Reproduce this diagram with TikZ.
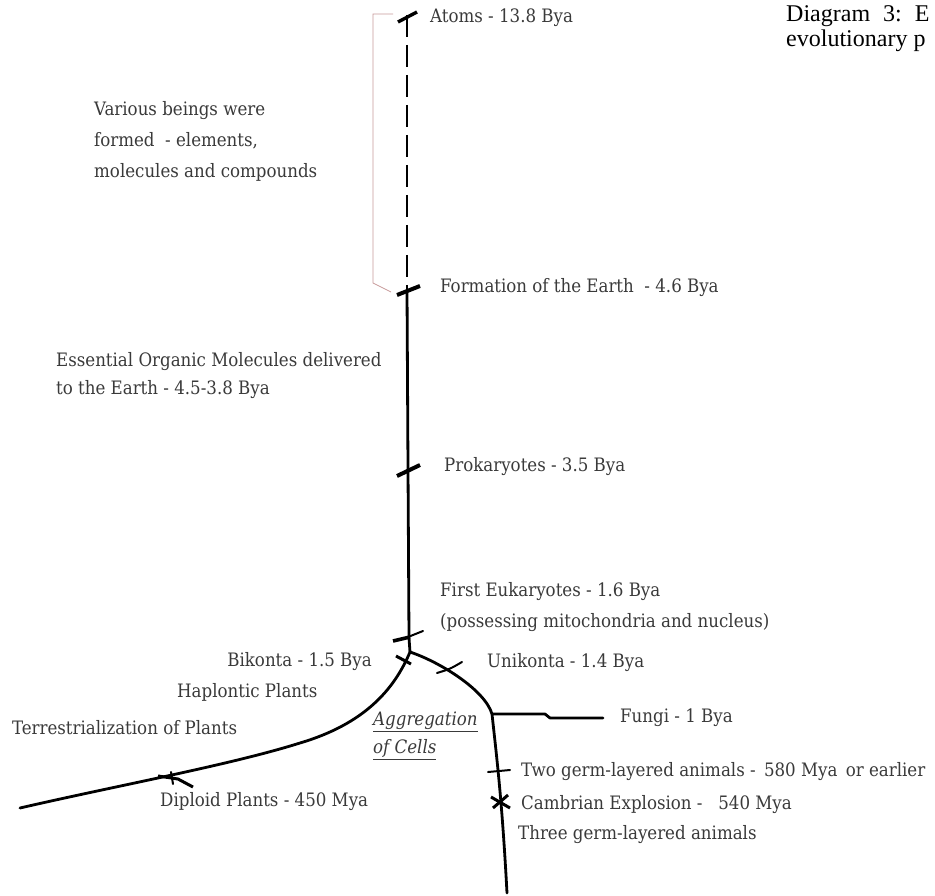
\documentclass[tikz,border=0pt]{standalone}
\usepackage{fontspec}
\setmainfont{DejaVu Serif Condensed}
\newfontfamily\capfont{Liberation Serif}
\definecolor{txtgray}{HTML}{3A3A3A}
\definecolor{brk}{HTML}{C89A9A}
\begin{document}
\begin{tikzpicture}[x=1pt,y=-1pt,
  lbl/.style={anchor=west, inner sep=0pt, text=txtgray, align=left, font=\fontsize{18.5}{28}\selectfont},
  caplbl/.style={anchor=west, inner sep=0pt, text=black, font=\capfont\fontsize{24}{25}\selectfont},
  branch/.style={line width=2.8pt, line cap=round, line join=round},
  tickmark/.style={line width=3.4pt, line cap=butt},
  thintick/.style={line width=2pt, line cap=round},
  bracketline/.style={draw=brk, line width=0.8pt}]
\useasboundingbox (0,0) rectangle (935,896);
\fill[white] (0,0) rectangle (935,896);

% main stem
\coordinate (top) at (407,15);
\coordinate (earth) at (407,290);
\coordinate (prok) at (408,468);
\coordinate (euk) at (409,638);
\coordinate (junc) at (410,652);
\coordinate (lend) at (20,808);
\coordinate (rend) at (507,893);
\coordinate (fork) at (492,714);
\coordinate (fend) at (603,718);

\draw[branch, line cap=butt, dash pattern=on 22pt off 8pt] (top) -- (earth);
\draw[branch] (earth) -- (prok) -- (euk) -- (junc);

% left branch (Bikonta)
\draw[branch] (junc) .. controls (394,690) and (364,724) .. (300,743)
  .. controls (230,765) and (120,785) .. (lend);
% right branch (Unikonta)
\draw[branch] (junc) .. controls (440,662) and (485,690) .. (fork)
  .. controls (497,760) and (502,800) .. (rend);
% fungi
\draw[branch] (fork) -- (545,714) -- (550,718) -- (fend);

% bracket
\draw[bracketline] (393,14) -- (373,14) -- (373,283) -- (391,292);

% tick marks
\draw[tickmark] (398,22) -- (417,12);
\draw[tickmark, line width=4pt] (397,295) -- (420,286);
\draw[tickmark, line width=4pt] (397,476) -- (420,465);
\draw[tickmark, line width=3.6pt] (393,641) -- (410,637);
\draw[thintick] (408,637) -- (423,631);
\draw[tickmark, line width=3pt] (396,656) -- (411,664);
\draw[thintick] (437,673) .. controls (450,669) .. (462,662);
\draw[thintick] (488,772) -- (510,770);
\draw[tickmark, line width=3pt] (491,797) -- (510,808);
\draw[tickmark, line width=3pt] (493,808) -- (508,795);
\draw[tickmark, line width=3pt] (158,776) -- (178,779) -- (193,787);
\draw[thintick] (171,772) -- (173,784);

% labels
\node[lbl] (atoms) at (430,18) {Atoms - 13.8 Bya};
\node[lbl] (earthl) at (440,288) {Formation of the Earth\ \ - 4.6 Bya};
\node[lbl, font=\fontsize{18.5}{31}\selectfont] (various) at (94,141) {Various beings were\\formed\ \ - elements,\\molecules and compounds};
\node[lbl] (essent) at (56,376) {Essential Organic Molecules delivered\\to the Earth - 4.5-3.8 Bya};
\node[lbl] (prokl) at (444,467) {Prokaryotes - 3.5 Bya};
\node[lbl, font=\fontsize{18.5}{31}\selectfont] (eukl) at (440,607) {First Eukaryotes - 1.6 Bya\\(possessing mitochondria and nucleus)};
\node[lbl, anchor=east] (bik) at (372,662) {Bikonta - 1.5 Bya};
\node[lbl] (unik) at (487,663) {Unikonta - 1.4 Bya};
\node[lbl] (hapl) at (177,692) {Haplontic Plants};
\node[lbl] (terr) at (12,728) {Terrestrialization of Plants};
\node[lbl] (aggr) at (373,736) {\underline{\itshape Aggregation}\\\underline{\itshape of Cells}};
\node[lbl] (fungi) at (620,718) {Fungi - 1 Bya};
\node[lbl] (twog) at (521,772) {Two germ-layered animals -\,\ 580 Mya\,\ or earlier};
\node[lbl] (camb) at (521,805) {Cambrian Explosion -\ \ \ 540 Mya};
\node[lbl] (threeg) at (518,835) {Three germ-layered animals};
\node[lbl] (dipl) at (160,802) {Diploid Plants - 450 Mya};
\node[caplbl] (cap1) at (786,16) {Diagram\hspace{13pt}3:\hspace{13pt}E};
\node[caplbl] (cap2) at (786,41) {evolutionary p};
\end{tikzpicture}
\end{document}
